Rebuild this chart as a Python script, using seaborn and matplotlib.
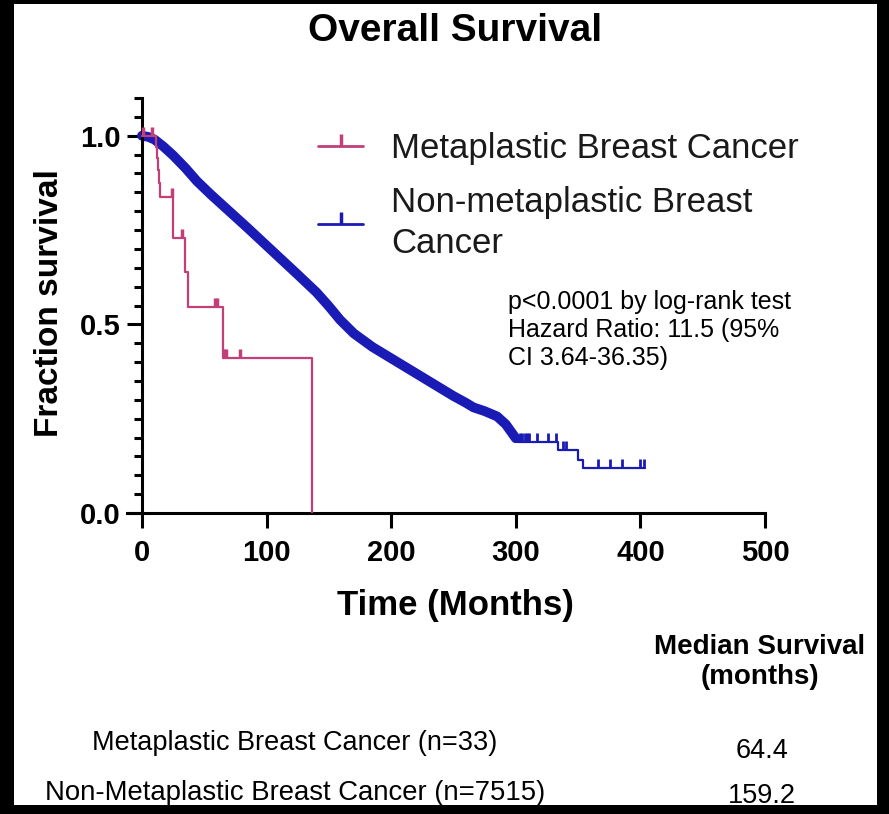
import numpy as np
import pandas as pd
import matplotlib
matplotlib.use("Agg")
import matplotlib.pyplot as plt
from matplotlib.patches import Rectangle
from matplotlib.lines import Line2D
from matplotlib.ticker import MultipleLocator
import seaborn as sns

# ---------------- data ----------------
# Metaplastic breast cancer KM steps (time in months, fraction surviving)
meta_t = [0, 11, 12, 13, 13.7, 14.4, 25, 34.5, 37, 64.8, 136.2]
meta_s = [1.0, 0.97, 0.94, 0.91, 0.875, 0.838, 0.73, 0.64, 0.546, 0.41, 0.0]
# censor marks
meta_cens_t = [1, 8, 23.8, 32.5, 59, 60.5, 66, 67.5, 78.6]
meta_cens_s = [1.0, 1.0, 0.838, 0.73, 0.546, 0.546, 0.41, 0.41, 0.41]

# Non-metaplastic: dense (heavily censored) part of the curve
non_t = [0, 5, 10, 17, 25, 35, 44, 55, 70, 85, 97, 110, 124, 140, 150, 159,
         170, 185, 200, 215, 230, 250, 260, 266, 275, 285, 292, 300]
non_s = [1.0, 0.997, 0.99, 0.972, 0.948, 0.914, 0.88, 0.845, 0.80, 0.755,
         0.718, 0.678, 0.635, 0.585, 0.548, 0.512, 0.476, 0.44, 0.41, 0.38,
         0.35, 0.31, 0.292, 0.28, 0.27, 0.256, 0.235, 0.198]
# sparse tail steps
tail_t = [300, 302, 334, 350, 354, 404]
tail_s = [0.198, 0.188, 0.167, 0.14, 0.119, 0.119]
tail_cens_t = [303, 305, 307, 309, 311, 317, 326, 332, 338, 340, 366, 376, 385, 400, 403]
tail_cens_s = [0.188, 0.188, 0.188, 0.188, 0.188, 0.188, 0.188, 0.188,
               0.167, 0.167, 0.119, 0.119, 0.119, 0.119, 0.119]

x_ticks = [0, 100, 200, 300, 400, 500]
y_ticks = [0.0, 0.5, 1.0]
y_tick_labels = ["0.0", "0.5", "1.0"]

groups = ["Metaplastic Breast Cancer (n=33)", "Non-Metaplastic Breast Cancer (n=7515)"]
medians = ["64.4", "159.2"]

# ---------------- styling ----------------
sns.set_theme(style="ticks")
plt.rcParams['font.family'] = ['Liberation Sans', 'DejaVu Sans']

PINK = '#C23F78'
BLUE = '#1A1AB4'
W, H = 889, 814

fig = plt.figure(figsize=(W / 100, H / 100), dpi=100, facecolor='black')
fig.patches.append(Rectangle((14 / W, 9 / H), 863 / W, 801 / H, transform=fig.transFigure,
                             facecolor='white', edgecolor='none', zorder=-10))
ax = fig.add_axes([127 / W, 1 - 513 / H, 638 / W, 415 / H])
ax.set_facecolor('none')

# curves
sns.lineplot(x=non_t, y=non_s, ax=ax, color=BLUE, lw=7, estimator=None, sort=False,
             solid_capstyle='round', solid_joinstyle='round')
sns.lineplot(x=tail_t, y=tail_s, ax=ax, color=BLUE, lw=1.6, drawstyle='steps-post',
             estimator=None, sort=False)
sns.scatterplot(x=tail_cens_t, y=tail_cens_s, ax=ax, marker=2, s=45, linewidth=2,
                color=BLUE, edgecolor=BLUE, zorder=3)
sns.lineplot(x=meta_t, y=meta_s, ax=ax, color=PINK, lw=1.6, drawstyle='steps-post',
             estimator=None, sort=False, zorder=4)
sns.scatterplot(x=meta_cens_t, y=meta_cens_s, ax=ax, marker=2, s=45, linewidth=2.5,
                color=PINK, edgecolor=PINK, zorder=5)

# axes
ax.set_xlim(-12, 500)
ax.set_ylim(0, 1.1)
ax.spines['left'].set_position(('data', 0))
ax.spines[['top', 'right']].set_visible(False)
for sp in ['left', 'bottom']:
    ax.spines[sp].set_linewidth(2.2)
    ax.spines[sp].set_color('black')
ax.set_xticks(x_ticks)
ax.set_yticks(y_ticks)
ax.set_yticklabels(y_tick_labels)
ax.yaxis.set_minor_locator(MultipleLocator(0.05))
ax.tick_params(axis='both', which='major', direction='out', length=11, width=2.2,
               labelsize=21, color='black', labelcolor='black')
ax.tick_params(axis='x', which='major', pad=8)
ax.tick_params(axis='y', which='major', pad=4)
ax.tick_params(axis='y', which='minor', direction='out', length=5.5, width=2.2, color='black')
for lab in ax.get_xticklabels() + ax.get_yticklabels():
    lab.set_fontweight('bold')

ax.set_xlabel('Time (Months)', fontsize=25, fontweight='bold', color='black')
ax.xaxis.set_label_coords((455 - 127) / 638, (513 - 606) / 415)
ax.xaxis.label.set_va('center')
ax.set_ylabel('Fraction survival', fontsize=24, fontweight='bold', color='black')
ax.yaxis.set_label_coords((50 - 127) / 638, (513 - 303) / 415)
ax.yaxis.label.set_va('center')
ax.yaxis.label.set_ha('center')

# legend
handles = [Line2D([], [], color=PINK, lw=2, marker=2, markersize=9, mew=2.5),
           Line2D([], [], color=BLUE, lw=2, marker=2, markersize=9, mew=2.5)]
labels = ["Metaplastic Breast Cancer", "Non-metaplastic Breast\nCancer"]
leg = ax.legend(handles, labels, loc='upper left', bbox_to_anchor=(318 / W, 1 - 132 / H),
                bbox_transform=fig.transFigure, frameon=False, fontsize=25, handlelength=1.3,
                handletextpad=0.8, labelspacing=0.6, borderpad=0, borderaxespad=0)
for t in leg.get_texts():
    t.set_linespacing(1.32)
    t.set_color('#1a1a1a')

# annotation
fig.text(508 / W, 1 - 290 / H, "p<0.0001 by log-rank test\nHazard Ratio: 11.5 (95%\nCI 3.64-36.35)",
         ha='left', va='top', fontsize=18, linespacing=1.2, color='black')

# title
fig.text(455 / W, 1 - 31 / H, "Overall Survival", ha='center', va='center',
         fontsize=28, fontweight='bold', color='black')

# median table
fig.text(760 / W, 1 - 662 / H, "Median Survival\n(months)", ha='center', va='center',
         fontsize=20, fontweight='bold', linespacing=1.25, multialignment='center', color='black')
fig.text(295 / W, 1 - 743 / H, groups[0], ha='center', va='center', fontsize=19.5, color='black')
fig.text(295 / W, 1 - 793 / H, groups[1], ha='center', va='center', fontsize=19.8, color='black')
fig.text(762 / W, 1 - 751 / H, medians[0], ha='center', va='center', fontsize=19.5, color='black')
fig.text(762 / W, 1 - 796 / H, medians[1], ha='center', va='center', fontsize=19.5, color='black')

fig.savefig("out.png", dpi=100, facecolor=fig.get_facecolor())
